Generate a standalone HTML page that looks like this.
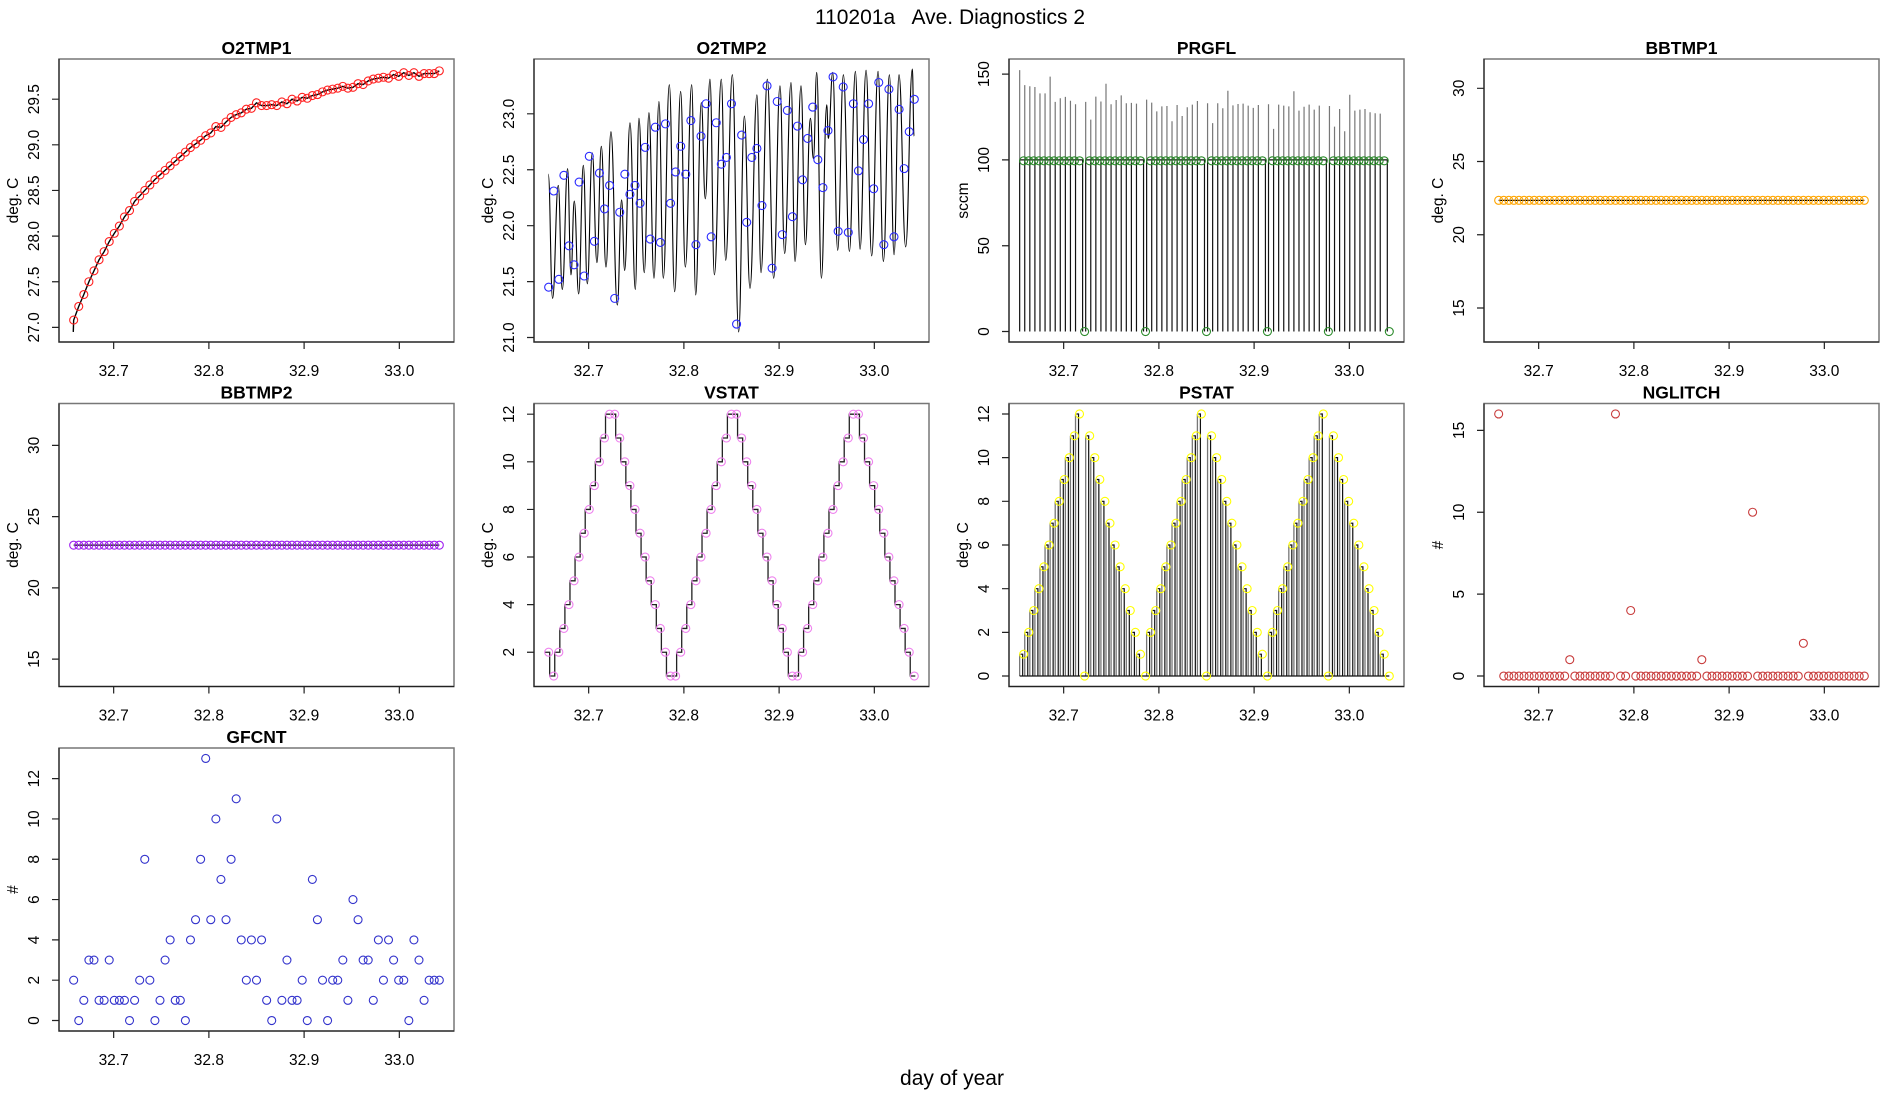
<!DOCTYPE html>
<html><head><meta charset="utf-8"><title>110201a Ave. Diagnostics 2</title>
<style>
html,body{margin:0;padding:0;background:#fff;}
svg{display:block;font-family:"Liberation Sans",sans-serif;}
</style></head>
<body>
<svg id="chart" width="1900" height="1100" viewBox="0 0 1900 1100" xmlns="http://www.w3.org/2000/svg">
<rect width="1900" height="1100" fill="#fff"/>
<text x="950" y="24" font-size="21" text-anchor="middle" style="white-space:pre">110201a   Ave. Diagnostics 2</text>
<text x="952" y="1085" font-size="21" text-anchor="middle">day of year</text>
</svg>
<script>
// ---- data ----
const sampleStart = 32.658;
const sampleStep = 0.005333;
const xTicks = [32.7, 32.8, 32.9, 33.0];
const xTickLabels = ["32.7", "32.8", "32.9", "33.0"];

const o2tmp1Vals = [27.08,27.23,27.36,27.50,27.62,27.74,27.83,27.94,28.03,28.11,28.21,28.28,28.38,28.44,28.50,28.56,28.62,28.67,28.72,28.77,28.82,28.87,28.92,28.97,29.01,29.05,29.10,29.13,29.20,29.19,29.25,29.30,29.33,29.35,29.39,29.40,29.46,29.43,29.43,29.44,29.43,29.47,29.45,29.50,29.48,29.52,29.51,29.54,29.55,29.58,29.60,29.61,29.62,29.64,29.62,29.63,29.67,29.66,29.70,29.72,29.73,29.74,29.73,29.77,29.75,29.79,29.76,29.79,29.75,29.78,29.78,29.78,29.81];
const o2tmp1Start = [32.6576, 26.95];

const o2tmp2Vals = [21.45,22.31,21.52,22.45,21.82,21.65,22.39,21.55,22.62,21.86,22.47,22.15,22.36,21.35,22.12,22.46,22.28,22.36,22.20,22.70,21.88,22.88,21.85,22.91,22.20,22.48,22.71,22.46,22.94,21.83,22.80,23.09,21.90,22.92,22.55,22.61,23.09,21.12,22.81,22.03,22.61,22.69,22.18,23.25,21.62,23.11,21.92,23.03,22.08,22.89,22.41,22.78,23.06,22.59,22.34,22.85,23.33,21.95,23.24,21.94,23.09,22.49,22.77,23.09,22.33,23.28,21.83,23.22,21.90,23.04,22.51,22.84,23.13];
const o2tmp2LineT = [32.6576,32.6621,32.6681,32.6723,32.6779,32.6814,32.6849,32.6895,32.6944,32.6986,32.7038,32.7087,32.7133,32.7182,32.7234,32.7301,32.7346,32.7378,32.7434,32.7490,32.7528,32.7584,32.7633,32.7686,32.7738,32.7784,32.7847,32.7903,32.7966,32.8015,32.8082,32.8124,32.8183,32.8225,32.8274,32.8320,32.8393,32.8439,32.8509,32.8575,32.8635,32.8694,32.8767,32.8810,32.8876,32.8943,32.9009,32.9058,32.9125,32.9167,32.9230,32.9276,32.9328,32.9360,32.9395,32.9444,32.9500,32.9517,32.9563,32.9615,32.9675,32.9738,32.9801,32.9850,32.9913,32.9972,33.0039,33.0095,33.0158,33.0207,33.0259,33.0329,33.0399,33.0417];
const o2tmp2LineV = [22.46,21.35,22.36,21.43,22.51,21.56,22.22,21.39,22.54,21.48,22.65,21.67,22.71,21.63,22.84,21.29,22.23,21.60,22.92,21.43,22.96,21.58,23.01,21.53,23.11,21.53,23.26,21.41,23.20,21.63,23.26,21.38,23.10,22.24,23.31,21.56,23.31,21.69,23.35,21.05,22.98,21.44,23.17,21.58,23.31,21.53,23.25,21.75,23.28,21.68,23.25,21.83,22.96,22.60,23.37,21.53,23.08,22.78,23.37,21.78,23.35,21.77,23.38,21.79,23.39,21.73,23.38,21.68,23.35,21.74,23.35,21.81,23.40,22.80];

const prgflVals = [99.5,99.5,99.5,99.5,99.5,99.5,99.5,99.5,99.5,99.5,99.5,99.5,0,99.5,99.5,99.5,99.5,99.5,99.5,99.5,99.5,99.5,99.5,99.5,0,99.5,99.5,99.5,99.5,99.5,99.5,99.5,99.5,99.5,99.5,99.5,0,99.5,99.5,99.5,99.5,99.5,99.5,99.5,99.5,99.5,99.5,99.5,0,99.5,99.5,99.5,99.5,99.5,99.5,99.5,99.5,99.5,99.5,99.5,0,99.5,99.5,99.5,99.5,99.5,99.5,99.5,99.5,99.5,99.5,99.5,0];
const prgflPeaks = [152.3,143.6,142.9,142.5,138.8,138.8,148.5,133.8,135.9,136.7,134.5,132.4,0,133.8,123.5,136.9,134.0,144.4,132.4,134.9,137.6,133.0,133.2,132.8,0,135.1,133.4,128.3,131.2,131.4,122.5,132.0,125.6,130.7,132.2,134.3,0,133.0,121.4,133.0,130.1,140.3,131.8,132.6,132.8,131.6,130.3,132.0,0,132.4,118.1,132.2,131.6,131.2,140.0,128.7,131.0,132.2,129.3,131.6,0,131.4,119.4,129.7,116.7,138.0,128.7,129.3,129.7,127.8,127.2,127.0,0];

const bbtmp1Vals = [22.35,22.35,22.35,22.35,22.35,22.35,22.35,22.35,22.35,22.35,22.35,22.35,22.35,22.35,22.35,22.35,22.35,22.35,22.35,22.35,22.35,22.35,22.35,22.35,22.35,22.35,22.35,22.35,22.35,22.35,22.35,22.35,22.35,22.35,22.35,22.35,22.35,22.35,22.35,22.35,22.35,22.35,22.35,22.35,22.35,22.35,22.35,22.35,22.35,22.35,22.35,22.35,22.35,22.35,22.35,22.35,22.35,22.35,22.35,22.35,22.35,22.35,22.35,22.35,22.35,22.35,22.35,22.35,22.35,22.35,22.35,22.35,22.35];
const bbtmp2Vals = [23.0,23.0,23.0,23.0,23.0,23.0,23.0,23.0,23.0,23.0,23.0,23.0,23.0,23.0,23.0,23.0,23.0,23.0,23.0,23.0,23.0,23.0,23.0,23.0,23.0,23.0,23.0,23.0,23.0,23.0,23.0,23.0,23.0,23.0,23.0,23.0,23.0,23.0,23.0,23.0,23.0,23.0,23.0,23.0,23.0,23.0,23.0,23.0,23.0,23.0,23.0,23.0,23.0,23.0,23.0,23.0,23.0,23.0,23.0,23.0,23.0,23.0,23.0,23.0,23.0,23.0,23.0,23.0,23.0,23.0,23.0,23.0,23.0];

const vstatVals = [2,1,2,3,4,5,6,7,8,9,10,11,12,12,11,10,9,8,7,6,5,4,3,2,1,1,2,3,4,5,6,7,8,9,10,11,12,12,11,10,9,8,7,6,5,4,3,2,1,1,2,3,4,5,6,7,8,9,10,11,12,12,11,10,9,8,7,6,5,4,3,2,1];
const pstatVals = [1,2,3,4,5,6,7,8,9,10,11,12,0,11,10,9,8,7,6,5,4,3,2,1,0,2,3,4,5,6,7,8,9,10,11,12,0,11,10,9,8,7,6,5,4,3,2,1,0,2,3,4,5,6,7,8,9,10,11,12,0,11,10,9,8,7,6,5,4,3,2,1,0];
const nglitchVals = [16,0,0,0,0,0,0,0,0,0,0,0,0,0,1,0,0,0,0,0,0,0,0,16,0,0,4,0,0,0,0,0,0,0,0,0,0,0,0,0,1,0,0,0,0,0,0,0,0,0,10,0,0,0,0,0,0,0,0,0,2,0,0,0,0,0,0,0,0,0,0,0,0];
const gfcntVals = [2,0,1,3,3,1,1,3,1,1,1,0,1,2,8,2,0,1,3,4,1,1,0,4,5,8,13,5,10,7,5,8,11,4,2,4,2,4,1,0,10,1,3,1,1,2,0,7,5,2,0,2,2,3,1,6,5,3,3,1,4,2,4,3,2,2,0,4,3,1,2,2,2];

const o2tmp1Ticks = [27.0,27.5,28.0,28.5,29.0,29.5];
const o2tmp2Ticks = [21.0,21.5,22.0,22.5,23.0];
const prgflTicks = [0,50,100,150];
const bbTicks = [15,20,25,30];
const stat2Ticks = [2,4,6,8,10,12];
const pstatTicks = [0,2,4,6,8,10,12];
const nglitchTicks = [0,5,10,15];
const gfcntTicks = [0,2,4,6,8,10,12];

const times = [];
for (let i = 0; i < 73; i++) times.push(sampleStart + i * sampleStep);

// ---- drawing ----
const NS = "http://www.w3.org/2000/svg";
const svg = document.getElementById("chart");
const XMIN = 32.6426, XMAX = 33.0574, PW = 395, PH = 283;
const ROWS = [59, 403.5, 748];

function mk(tag, parent) { const e = document.createElementNS(NS, tag); parent.appendChild(e); return e; }

function panel(name, col, row, ymin, ymax, ticks, ytitle, title) {
  const left = 59 + col * 475, top = ROWS[row];
  const g = mk("g", svg);
  
  
  const X = t => left + (t - XMIN) / (XMAX - XMIN) * PW;
  const Y = v => top + PH - (v - ymin) / (ymax - ymin) * PH;
  const box = mk("rect", g);
  
  
  box.setAttribute("x", left); box.setAttribute("y", top);
  box.setAttribute("width", PW); box.setAttribute("height", PH);
  box.setAttribute("fill", "none"); box.setAttribute("stroke", "#777"); box.setAttribute("stroke-width", "1.5");
  const ax = mk("path", g);
  
  
  let d = "M" + left + " " + top + "V" + (top + PH) + "H" + (left + PW);
  ticks.forEach(v => { d += "M" + left + " " + Y(v) + "h-7"; });
  xTicks.forEach(t => { d += "M" + X(t) + " " + (top + PH) + "v7"; });
  ax.setAttribute("d", d); ax.setAttribute("stroke", "#222"); ax.setAttribute("stroke-width", "1.2"); ax.setAttribute("fill", "none");
  ticks.forEach(v => {
    const tx = mk("text", g);
    
    
    const yy = Y(v);
    tx.setAttribute("transform", "translate(" + (left - 20) + "," + yy + ") rotate(-90)");
    tx.setAttribute("text-anchor", "middle"); tx.setAttribute("font-size", "15.5");
    tx.textContent = (ticks === o2tmp1Ticks || ticks === o2tmp2Ticks) ? v.toFixed(1) : String(v);
  });
  xTicks.forEach((t, i) => {
    const tx = mk("text", g);
    
    
    tx.setAttribute("x", X(t)); tx.setAttribute("y", top + PH + 34);
    tx.setAttribute("text-anchor", "middle"); tx.setAttribute("font-size", "15.5");
    tx.textContent = xTickLabels[i];
  });
  const yt = mk("text", g);
  
  
  yt.setAttribute("transform", "translate(" + (left - 41) + "," + (top + PH / 2) + ") rotate(-90)");
  yt.setAttribute("text-anchor", "middle"); yt.setAttribute("font-size", "15.5");
  yt.textContent = ytitle;
  const tt = mk("text", g);
  
  
  tt.setAttribute("x", left + PW / 2); tt.setAttribute("y", top - 5);
  tt.setAttribute("text-anchor", "middle"); tt.setAttribute("font-size", "17.5"); tt.setAttribute("font-weight", "bold");
  tt.textContent = title;
  return { g, X, Y, left, top };
}

function line(p, d, name, color, w) {
  const e = mk("path", p.g);
  
  
  e.setAttribute("d", d); e.setAttribute("fill", "none");
  e.setAttribute("stroke", color); e.setAttribute("stroke-width", w || 1.2);
  return e;
}
function circles(p, vals, name, color) {
  vals.forEach((v, i) => {
    const c = mk("circle", p.g);
    
    
    c.setAttribute("cx", p.X(times[i])); c.setAttribute("cy", p.Y(v)); c.setAttribute("r", 4);
    c.setAttribute("fill", "none"); c.setAttribute("stroke", color); c.setAttribute("stroke-width", "1.1");
  });
}

// O2TMP1
let p = panel("o2tmp1", 0, 0, 26.84, 29.94, o2tmp1Ticks, "deg. C", "O2TMP1");
let d = "M" + p.X(o2tmp1Start[0]) + " " + p.Y(o2tmp1Start[1]);
o2tmp1Vals.forEach((v, i) => { d += "L" + p.X(times[i]) + " " + p.Y(v); });
line(p, d, "o2tmp1-line", "#000", 1.4);
circles(p, o2tmp1Vals, "o2tmp1-point", "#ff2020");

// O2TMP2
p = panel("o2tmp2", 1, 0, 20.96, 23.49, o2tmp2Ticks, "deg. C", "O2TMP2");
d = "M" + p.X(o2tmp2LineT[0]) + " " + p.Y(o2tmp2LineV[0]);
for (let i = 1; i < o2tmp2LineT.length; i++) {
  const x0 = p.X(o2tmp2LineT[i - 1]), y0 = p.Y(o2tmp2LineV[i - 1]);
  const x1 = p.X(o2tmp2LineT[i]), y1 = p.Y(o2tmp2LineV[i]);
  const dx = (x1 - x0) * 0.45;
  d += "C" + (x0 + dx) + " " + y0 + " " + (x1 - dx) + " " + y1 + " " + x1 + " " + y1;
}
line(p, d, "o2tmp2-line", "#000", 1.1);
circles(p, o2tmp2Vals, "o2tmp2-point", "#2a2aff");

// PRGFL
p = panel("prgfl", 2, 0, -6.1, 158.8, prgflTicks, "sccm", "PRGFL");
let dk = "", dg = "";
prgflVals.forEach((v, i) => {
  const x = p.X(times[i]) - 4;
  if (v > 0) {
    dk += "M" + x + " " + p.Y(0) + "V" + p.Y(100);
    dg += "M" + x + " " + p.Y(100) + "V" + p.Y(prgflPeaks[i]);
    if (i + 1 < prgflVals.length && prgflVals[i + 1] > 0) dk += "M" + x + " " + p.Y(100) + "H" + (p.X(times[i + 1]) - 4);
    else dk += "M" + x + " " + p.Y(100) + "H" + (p.X(times[i + 1]) - 2) + "V" + p.Y(0);
  }
});
line(p, dg, "prgfl-spikes", "#777", 1.2);
line(p, dk, "prgfl-line", "#111", 1.2);
circles(p, prgflVals, "prgfl-point", "#2a8a2a");

// BBTMP1
p = panel("bbtmp1", 3, 0, 12.68, 32.0, bbTicks, "deg. C", "BBTMP1");
d = "";
bbtmp1Vals.forEach((v, i) => { d += (i ? "L" : "M") + p.X(times[i]) + " " + p.Y(v); });
line(p, d, "bbtmp1-line", "#000", 1.2);
circles(p, bbtmp1Vals, "bbtmp1-point", "#ffa500");

// BBTMP2
p = panel("bbtmp2", 0, 1, 13.08, 32.94, bbTicks, "deg. C", "BBTMP2");
d = "";
bbtmp2Vals.forEach((v, i) => { d += (i ? "L" : "M") + p.X(times[i]) + " " + p.Y(v); });
line(p, d, "bbtmp2-line", "#000", 1.2);
circles(p, bbtmp2Vals, "bbtmp2-point", "#a020f0");

// VSTAT
p = panel("vstat", 1, 1, 0.56, 12.45, stat2Ticks, "deg. C", "VSTAT");
d = "M" + (p.X(times[0]) - 4) + " " + p.Y(vstatVals[0]);
vstatVals.forEach((v, i) => {
  const xe = p.X(times[i]) + 1;
  d += "H" + xe;
  if (i + 1 < vstatVals.length) d += "V" + p.Y(vstatVals[i + 1]);
});
line(p, d, "vstat-line", "#222", 1.3);
circles(p, vstatVals, "vstat-point", "#ee82ee");

// PSTAT
p = panel("pstat", 2, 1, -0.48, 12.48, pstatTicks, "deg. C", "PSTAT");
dk = "M" + (p.X(times[0]) - 4) + " " + p.Y(0) + "H" + p.X(times[times.length - 1]);
dg = "";
pstatVals.forEach((v, i) => {
  if (v > 0) {
    const x = p.X(times[i]);
    dg += "M" + (x - 4) + " " + p.Y(0) + "V" + p.Y(v);
    dk += "M" + (x - 1) + " " + p.Y(0) + "V" + p.Y(v) + "H" + (x - 3);
  }
});
line(p, dg, "pstat-spikes-left", "#777", 1.3);
line(p, dk, "pstat-line", "#111", 1.2);
circles(p, pstatVals, "pstat-point", "#ffff00");

// NGLITCH
p = panel("nglitch", 3, 1, -0.64, 16.64, nglitchTicks, "#", "NGLITCH");
circles(p, nglitchVals, "nglitch-point", "#c83c3c");

// GFCNT
p = panel("gfcnt", 0, 2, -0.52, 13.52, gfcntTicks, "#", "GFCNT");
circles(p, gfcntVals, "gfcnt-point", "#3333cc");
</script>
</body></html>
